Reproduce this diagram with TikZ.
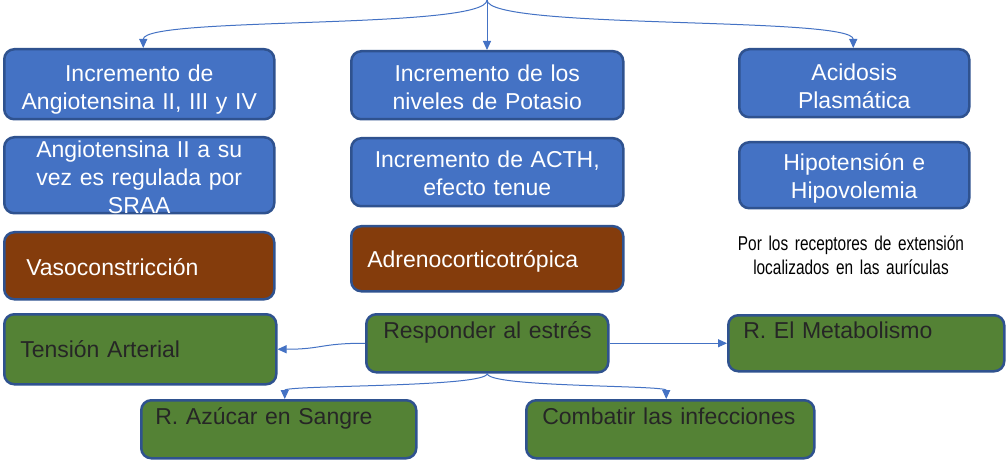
\documentclass[tikz,border=0pt]{standalone}
\usepackage{fontspec}
\setmainfont{Liberation Sans}
\newfontfamily\narrowfont{Liberation Sans}[FakeStretch=0.77]
\usetikzlibrary{arrows.meta}
\definecolor{boxblue}{HTML}{4472C4}
\definecolor{boxborder}{HTML}{2F528F}
\definecolor{boxbrown}{HTML}{843C0C}
\definecolor{boxgreen}{HTML}{548235}
\definecolor{darktext}{HTML}{262626}
\definecolor{linkblue}{HTML}{4472C4}
\tikzset{
  box/.style={draw=boxborder, line width=2.5pt, rounded corners=10pt, anchor=north west,
    inner ysep=0pt, font=\fontsize{23}{28}\selectfont},
  bluebox/.style={box, fill=boxblue, text=white, align=center, inner xsep=6pt},
  brownbox/.style={box, fill=boxbrown, text=white, align=left},
  greenbox/.style={box, fill=boxgreen, text=darktext, align=left},
  conn/.style={draw=linkblue, line width=1pt, -{Triangle[length=9pt,width=8pt]}},
  note/.style={anchor=north, inner sep=0pt, align=center, text width=240pt,
    font=\narrowfont\fontsize{20}{24}\selectfont}
}
\begin{document}
\begin{tikzpicture}[x=1pt,y=-1pt]
\useasboundingbox[fill=white] (0,0) rectangle (1007,473);
\coordinate (top) at (487,0);
% row 1
\node[bluebox, text width=258pt, text height=32pt, text depth=38pt] (b1) at (3,48)
  {Incremento de\\Angiotensina II, III y IV};
\node[bluebox, text width=260pt, text height=30pt, text depth=38pt] (b2) at (350,50)
  {Incremento de los\\niveles de Potasio};
\node[bluebox, text width=218pt, text height=31pt, text depth=37pt] (b3) at (738,48)
  {Acidosis\\Plasmática};
% row 2
\node[bluebox, text width=258pt, text height=20pt, text depth=56pt] (b4) at (3,136)
  {Angiotensina II a su\\vez es regulada por\\SRAA};
\node[bluebox, text width=260pt, text height=29pt, text depth=39pt] (b5) at (350,137)
  {Incremento de ACTH,\\efecto tenue};
\node[bluebox, text width=218pt, text height=28pt, text depth=38pt] (b6) at (738,141)
  {Hipotensión e\\Hipovolemia};
% row 3
\node[brownbox, inner xsep=22pt, text width=226pt, text height=43pt, text depth=24pt] (b7) at (3,231)
  {\mbox{Vasoconstricción}};
\node[brownbox, inner xsep=16pt, text width=240pt, text height=41pt, text depth=24pt] (b8) at (350,225)
  {\mbox{Adrenocorticotrópica}};
\node[note, text height=20pt, text depth=30pt] (n1) at (851,230)
  {Por los receptores de extensión\\localizados en las aurículas};
% green boxes
\node[greenbox, inner xsep=16pt, text width=240pt, text height=43pt, text depth=27pt] (g1) at (3,313)
  {\mbox{Tensión Arterial}};
\node[greenbox, inner xsep=17pt, text width=208pt, text height=24pt, text depth=34pt] (g2) at (365,313)
  {\mbox{Responder al estrés}};
\node[greenbox, inner xsep=15pt, text width=246pt, text height=23pt, text depth=33pt] (g3) at (727,314)
  {\mbox{R. El Metabolismo}};
\node[greenbox, inner xsep=14pt, text width=247pt, text height=24pt, text depth=34pt] (g4) at (140,399)
  {\mbox{R. Azúcar en Sangre}};
\node[greenbox, inner xsep=16pt, text width=256pt, text height=24pt, text depth=34pt] (g5) at (525,399)
  {\mbox{Combatir las infecciones}};
% top connectors
\draw[conn] (top) .. controls +(0,30) and +(0,-32) .. ([xshift=4pt]b1.north);
\draw[conn] (top) -- (top |- b2.north);
\draw[conn] (top) .. controls +(0,30) and +(0,-32) .. ([xshift=-1pt]b3.north);
% bottom connectors
\draw[conn] (g2.west) .. controls +(-45,0) and +(45,0) .. (g1.east);
\draw[conn] (g2.east) -- (g3.west);
\draw[conn] (g2.south) .. controls +(0,14) and +(0,-14) .. ([xshift=6pt]g4.north);
\draw[conn] (g2.south) .. controls +(0,14) and +(0,-14) .. ([xshift=-4pt]g5.north);
\end{tikzpicture}
\end{document}
